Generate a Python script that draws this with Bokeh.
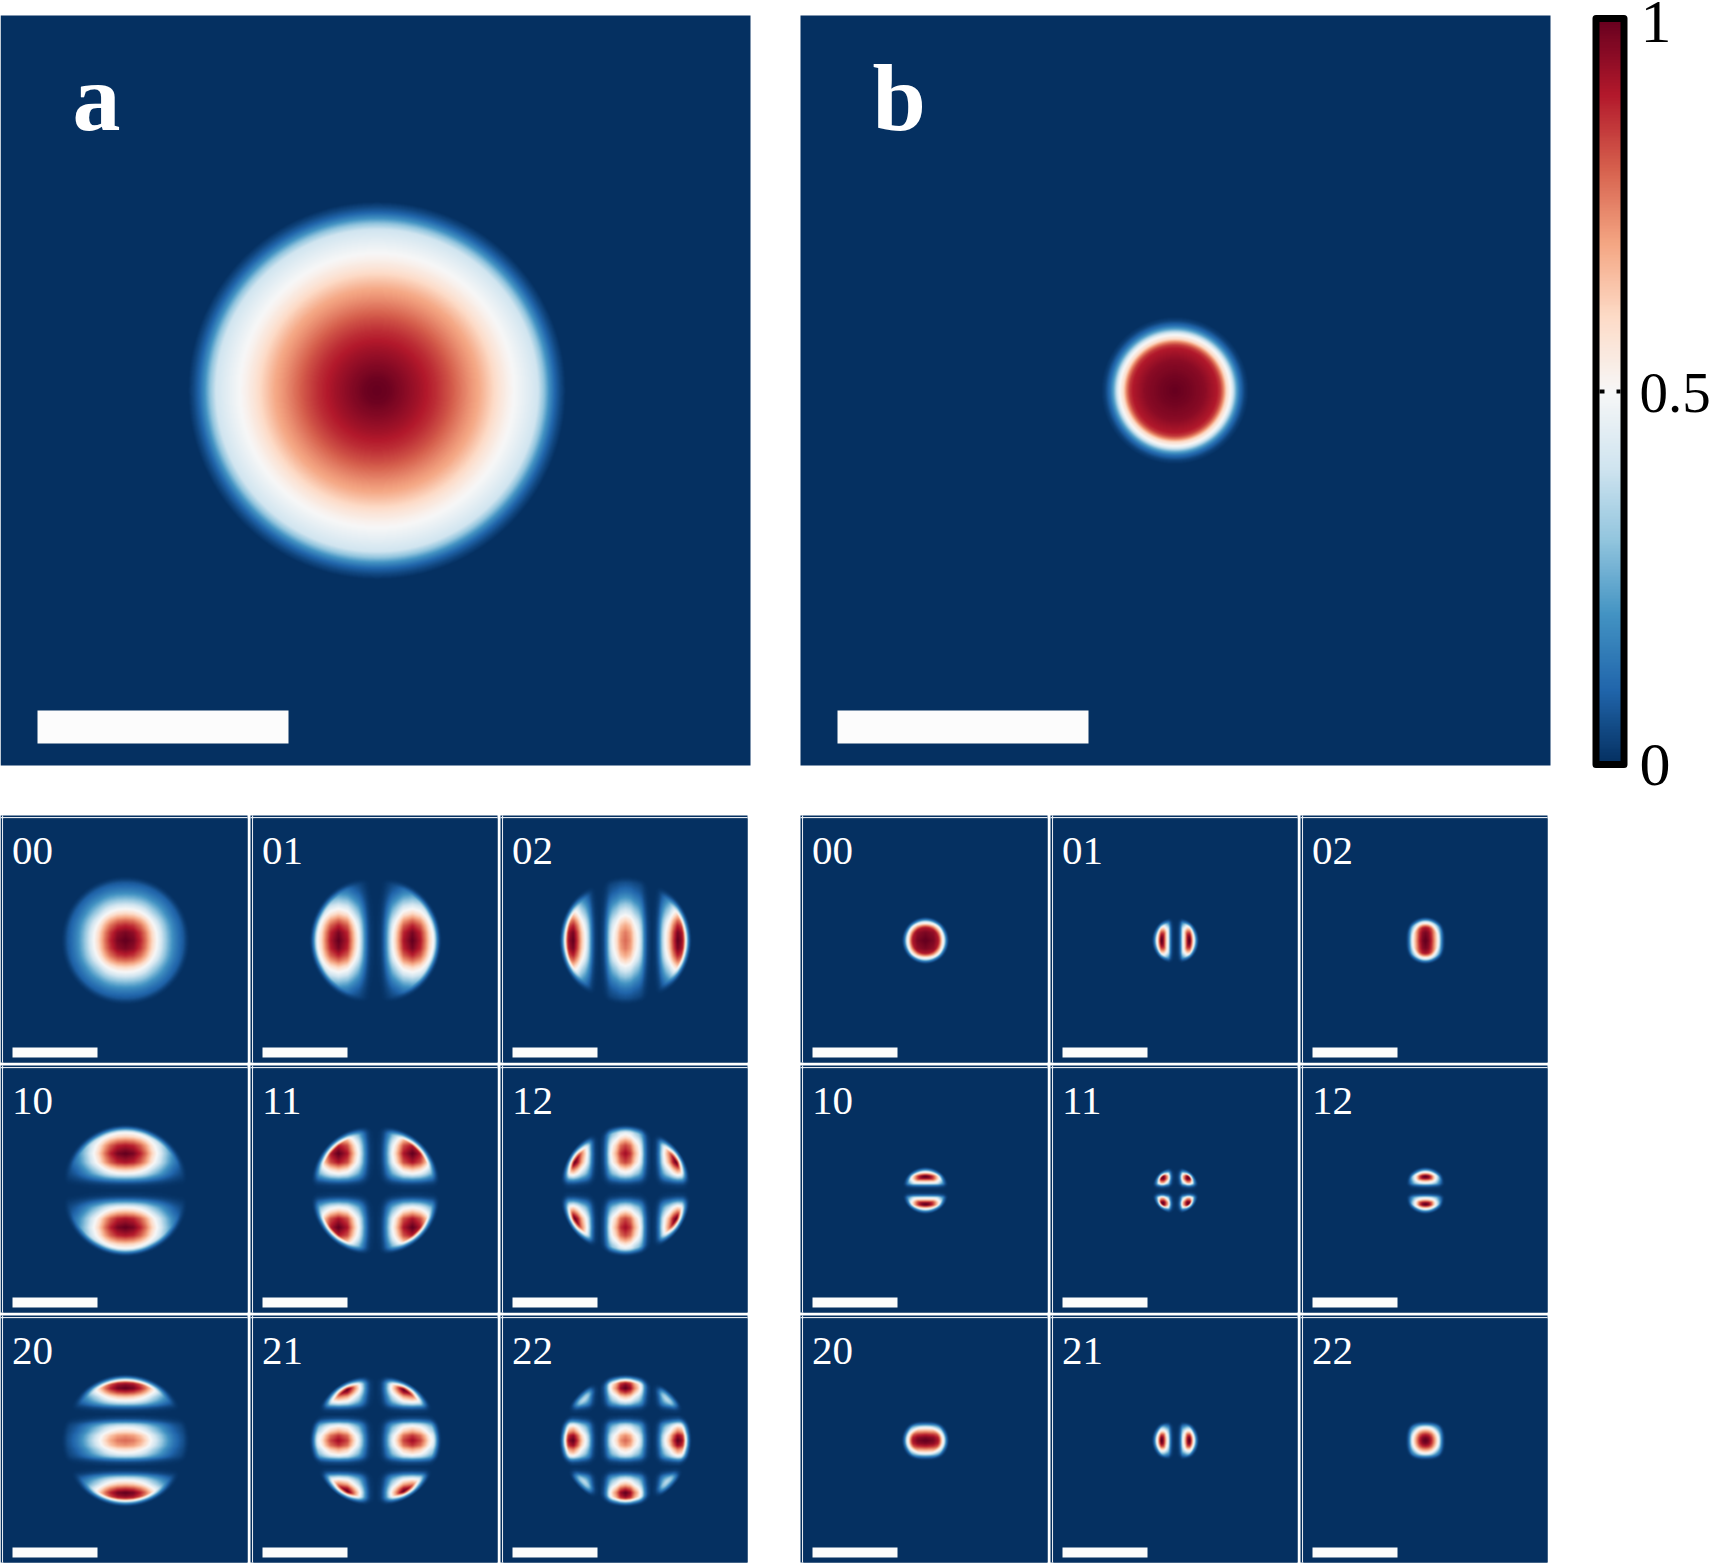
import numpy as np
from bokeh.core.properties import value
from bokeh.embed import file_html
from bokeh.models import LinearColorMapper, Range1d
from bokeh.plotting import figure
from bokeh.resources import INLINE

# ---- data -----------------------------------------------------------------
palette_stops = ["#053061", "#2166ac", "#4393c3", "#92c5de", "#d1e5f0", "#f7f7f7",
                 "#fddbc7", "#f4a582", "#d6604d", "#b2182b", "#67001f"]
panel_letters = ["a", "b"]
mode_labels = [["00", "01", "02"], ["10", "11", "12"], ["20", "21", "22"]]
colorbar_ticks = [0, 0.5, 1]
colorbar_labels = ["0", "0.5", "1"]

# radial profiles of the two large panels (radius in px, intensity)
a_r = [0, 12, 25, 42, 59, 72, 92, 102, 112, 122, 132, 142, 152, 161, 167, 172, 178, 184, 189]
a_v = [1, .99, .96, .92, .87, .82, .73, .69, .63, .57, .52, .48, .44, .4, .3, .2, .1, .04, 0]
b_r = [0, 15, 30, 42, 45.5, 48.5, 51.5, 55.5, 58, 61, 65, 70, 74]
b_v = [1, .98, .95, .9, .85, .75, .6, .5, .4, .25, .12, .03, 0]

# left grid: 1-D mode profiles along one axis (px from centre) and aperture
left_p0_x = [0, 8, 15, 20, 27, 33, 38, 42, 48, 55, 60, 70]
left_p0_v = [1, .97, .88, .78, .6, .47, .36, .28, .18, .1, .06, 0]
left_p1_x = [0, 5, 8, 11, 14, 17, 20, 24, 28, 37, 45, 50, 54, 58, 64]
left_p1_v = [0, .02, .08, .2, .35, .5, .6, .75, .9, 1, .9, .75, .6, .5, .4]
left_p2_x = [0, 5, 9, 13, 16, 19, 22, 26, 30, 33, 37, 40, 44, 48, 52, 56, 60, 70]
left_p2_v = [.78, .72, .58, .48, .35, .15, .04, 0, .02, .1, .35, .5, .65, .85, 1, .95, .8, .6]
left_ap_r = [0, 55, 58, 60, 62, 64, 66]
left_ap_v = [1, 1, .98, .7, .35, .1, 0]

# right grid
right_p0_x = [0, 8, 13, 15, 17.5, 19, 24, 30]
right_p0_v = [1, .97, .9, .85, .72, .68, .6, .6]
right_p1_x = [0, 3, 5, 7, 9, 12, 14.5, 16.5, 18, 22, 30]
right_p1_v = [0, .02, .12, .4, .55, .85, 1, .9, .75, .6, .5]
right_p2_x = [0, 3, 6, 9, 12, 14, 16, 18, 20, 30]
right_p2_v = [1, .97, .88, .72, .55, .42, .22, .07, .01, 0]
right_ap_r = [0, 13, 15, 17.5, 19, 20, 21.5, 23, 24]
right_ap_v = [1, 1, .88, .69, .58, .35, .15, .03, 0]

# ---- colours ----------------------------------------------------------------
rgb = np.array([[int(c[i:i + 2], 16) for i in (1, 3, 5)] for c in palette_stops], float)
pos = np.linspace(0, 1, len(palette_stops))
t = np.linspace(0, 1, 256)
palette = ["#%02x%02x%02x" % tuple(int(round(np.interp(u, pos, rgb[:, k]))) for k in range(3)) for u in t]
mapper = LinearColorMapper(palette=palette, low=0, high=1)

BG = "#053061"
H = 1565
p = figure(width=1710, height=H, x_range=Range1d(0, 1710), y_range=Range1d(0, H),
           output_backend="svg", toolbar_location=None, min_border=0,
           background_fill_color="white", border_fill_color="white", outline_line_color=None)
p.xaxis.visible = False
p.yaxis.visible = False
p.grid.visible = False


def put(field, x, top, w, h):
    p.image(image=[field.astype("float32")], x=x, y=H - top - h, dw=w, dh=h, color_mapper=mapper)


def bar(x0, x1, y0, y1, color):
    p.quad(left=x0, right=x1, top=H - y0, bottom=H - y1, fill_color=color, line_color=None)


def label(x, y, s, size, style="normal", color="white"):
    p.text([x], [H - y + .35 * size], text=[s], text_font=value("Liberation Serif"),
           text_font_size=f"{size}px", text_font_style=style, text_color=color,
           text_align="left", text_baseline="alphabetic")


# ---- large panels ---------------------------------------------------------
large = [(0, a_r, a_v, 376.5), (800, b_r, b_v, 1174.5)]
for (x0, rr, vv, cx), letter, lx in zip(large, panel_letters, (72, 872)):
    xs = np.arange(750) + x0 + .5 - cx
    ys = np.arange(750) + .5 - 375
    X, Y = np.meshgrid(xs, ys)
    put(np.interp(np.hypot(X, Y), rr, vv), x0, 15, 750, 750)
    bar(x0 + 37, x0 + 288, 710, 743, "#fcfcfc")
    label(lx, 131, letter, 96, "bold")

# ---- small grids ----------------------------------------------------------
left_modes = [(left_p0_x, left_p0_v), (left_p1_x, left_p1_v), (left_p2_x, left_p2_v)]
right_modes = [(right_p0_x, right_p0_v), (right_p1_x, right_p1_v), (right_p2_x, right_p2_v)]
grids = [(0, left_modes, left_ap_r, left_ap_v), (800, right_modes, right_ap_r, right_ap_v)]
for gx, modes, ap_r, ap_v in grids:
    for m in range(3):
        for n in range(3):
            x0 = gx + 250 * n
            y0 = 815 + 250 * m
            bar(x0, x0 + 247, y0, y0 + 247, BG)
            bar(x0 + 1.5, x0 + 2.6, y0, y0 + 247, "#e6ebf1")
            bar(x0, x0 + 247, y0 + 1.5, y0 + 2.8, "#e6ebf1")
            c = np.arange(244) + .5 - 122
            X, Y = np.meshgrid(c, c)
            px = np.interp(np.abs(X), *modes[n])
            py = np.interp(np.abs(Y), *modes[m])
            f = px * py * np.interp(np.hypot(X, Y), ap_r, ap_v)
            put(f / f.max(), x0 + 3, y0 + 3, 244, 244)
            bar(x0 + 12, x0 + 97, y0 + 232, y0 + 242, "#fcfcfc")
            label(x0 + 11.5, y0 + 49.5, mode_labels[m][n], 41)

# ---- colour bar -----------------------------------------------------------
cb_top, cb_bottom = 18, 764
put(np.linspace(1, 0, 512)[::-1].reshape(-1, 1), 1595, cb_top, 29, cb_bottom - cb_top)
p.quad(left=1595.5, right=1623.5, top=H - cb_top, bottom=H - cb_bottom, fill_color=None,
       line_color="black", line_width=7, line_join="round")
tick_y = [cb_bottom - v * (cb_bottom - cb_top) for v in colorbar_ticks]
bar(1599, 1604, tick_y[1] - 2, tick_y[1] + 2, "black")
bar(1616, 1620, tick_y[1] - 2, tick_y[1] + 2, "black")
for v, s, yb, lx, fs in zip(colorbar_ticks, colorbar_labels, (786, 412, 43), (1639, 1639, 1640), (62, 57, 62)):
    label(lx, yb, s, fs, color="black")

open("out.html", "w").write(file_html(p, INLINE))
